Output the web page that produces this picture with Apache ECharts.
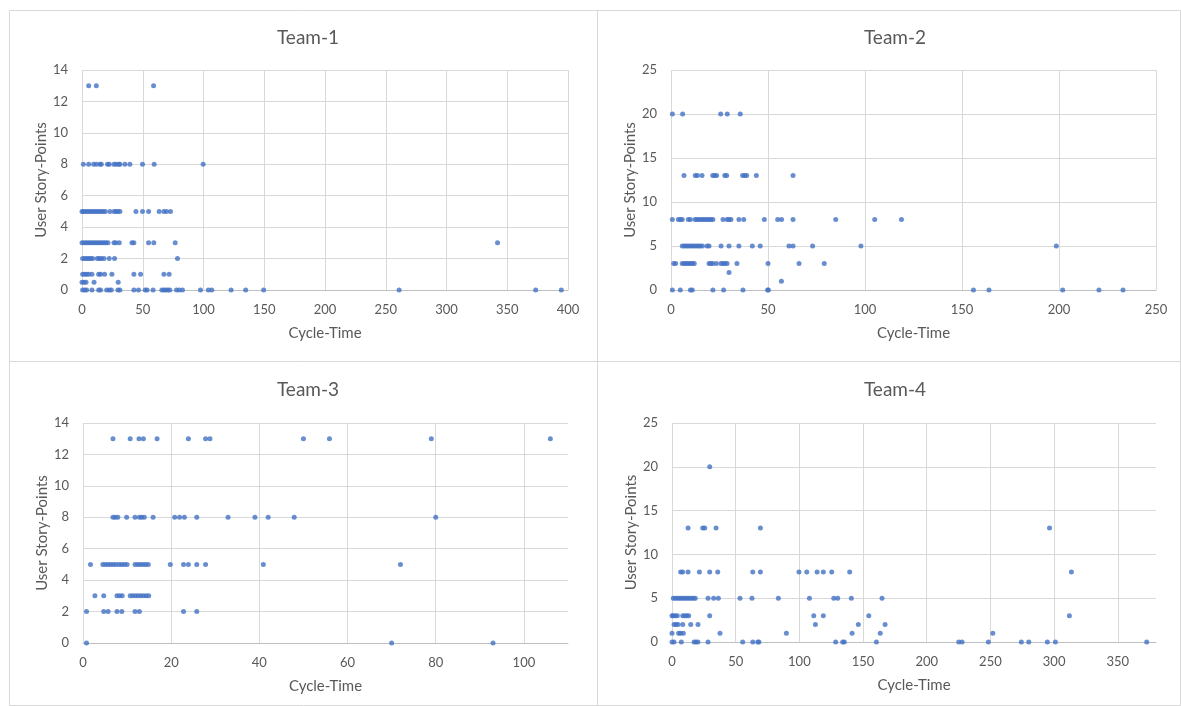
<!DOCTYPE html>
<html>
<head>
<meta charset="utf-8">
<script src="https://cdn.jsdelivr.net/npm/echarts@6/dist/echarts.min.js"></script>
<style>
html,body{margin:0;padding:0;background:#fff;}
#main{width:1181px;height:706px;}
</style>
</head>
<body>
<div id="main"></div>
<script>
// ---- Data: [Cycle-Time, User Story-Points] ----
const teamTitles = ['Team-1', 'Team-2', 'Team-3', 'Team-4'];

const team1Data = [
  [5.5,13],[11.8,13],[58.9,13],
  [1.1,8],[5.5,8],[9.6,8],[11.8,8],[14.8,8],[15.9,8],[21,8],[22.4,8],[26.3,8],[27.9,8],[30.1,8],[31.2,8],[35.3,8],[39.4,8],[49.8,8],[59.4,8],[99.7,8],
  [0,5],[1.1,5],[2.7,5],[4.4,5],[6,5],[7.7,5],[9.3,5],[11,5],[12.6,5],[14.2,5],[15.9,5],[17.5,5],[19.2,5],[23,5],[26.3,5],[27.9,5],[29.6,5],[31.2,5],[44.4,5],[49.8,5],[54.8,5],[63.5,5],[67.4,5],[69.5,5],[72.8,5],
  [0,3],[1.6,3],[3.3,3],[4.9,3],[6.6,3],[8.2,3],[9.9,3],[11.5,3],[13.1,3],[14.8,3],[16.4,3],[18.1,3],[19.7,3],[21.4,3],[26.3,3],[27.9,3],[30.7,3],[41.1,3],[42.7,3],[54.8,3],[59.1,3],[76.7,3],[342,3],
  [0.5,2],[2.2,2],[3.8,2],[5.5,2],[7.1,2],[8.8,2],[12.6,2],[14.2,2],[15.9,2],[18.1,2],[22.4,2],[26.8,2],[78.6,2],
  [0.5,1],[2.2,1],[3.8,1],[5.5,1],[8.2,1],[13.7,1],[15.3,1],[18.6,1],[24.6,1],[42.7,1],[48.2,1],[67.4,1],[71.7,1],
  [0,0.5],[1.6,0.5],[3.3,0.5],[9.9,0.5],[29.8,0.5],
  [0.5,0],[2.2,0],[3.8,0],[8.2,0],[13.7,0],[15.3,0],[20.3,0],[22.4,0],[24.1,0],[29.6,0],[31.2,0],[42.7,0],[46.5,0],[52,0],[53.6,0],[58.5,0],[65.7,0],[67.4,0],[69,0],[70.7,0],[72.3,0],[77.8,0],[80,0],[82.7,0],[97.5,0],[104,0],[106.8,0],[122.7,0],[134.7,0],[149.5,0],[261,0],[373.4,0],[394.5,0]
];

const team2Data = [
  [0.7,20],[6,20],[25.6,20],[29,20],[35.7,20],
  [6.7,13],[12.5,13],[13.6,13],[16,13],[21.5,13],[22.5,13],[23.5,13],[27.7,13],[28.7,13],[36.9,13],[38,13],[39,13],[44,13],[62.9,13],
  [0.7,8],[3.8,8],[4.8,8],[5.8,8],[8.9,8],[10,8],[12.4,8],[13.4,8],[14.4,8],[15.5,8],[16.5,8],[17.5,8],[18.6,8],[19.6,8],[20.6,8],[21.6,8],[26.8,8],[28.9,8],[29.9,8],[30.9,8],[35,8],[37.5,8],[48.1,8],[55,8],[57,8],[62.9,8],[84.9,8],[105,8],[118.8,8],
  [5.8,5],[6.9,5],[7.9,5],[8.9,5],[10,5],[11,5],[12,5],[13.1,5],[14.1,5],[15.1,5],[16.2,5],[18.6,5],[19.6,5],[25.8,5],[29.9,5],[35,5],[41.9,5],[46,5],[60.8,5],[62.9,5],[73,5],[97.9,5],[198.6,5],
  [1.4,3],[2.4,3],[5.8,3],[6.9,3],[7.9,3],[8.9,3],[10,3],[11,3],[12,3],[19.6,3],[20.6,3],[21.6,3],[23.4,3],[25.8,3],[26.8,3],[27.8,3],[28.9,3],[34,3],[50,3],[66,3],[79,3],
  [29.9,2],
  [56.9,1],
  [0.7,0],[4.8,0],[10,0],[11,0],[21.6,0],[27.1,0],[37.1,0],[49.8,0],[50.2,0],[155.9,0],[163.9,0],[201.9,0],[220.6,0],[233,0]
];

const team3Data = [
  [6.8,13],[10.7,13],[12.7,13],[13.7,13],[16.8,13],[23.9,13],[27.8,13],[28.8,13],[50,13],[55.9,13],[79,13],[106,13],
  [6.8,8],[7.3,8],[7.9,8],[9.9,8],[11.8,8],[12.8,8],[13.3,8],[13.9,8],[15.9,8],[20.8,8],[21.9,8],[23,8],[25.8,8],[32.9,8],[39,8],[42,8],[47.9,8],[80,8],
  [1.7,5],[4.5,5],[5.1,5],[5.7,5],[6.3,5],[6.9,5],[7.5,5],[8.2,5],[8.8,5],[9.4,5],[10,5],[11.8,5],[12.4,5],[13,5],[13.6,5],[14.2,5],[14.8,5],[19.8,5],[22.8,5],[23.9,5],[25.8,5],[27.8,5],[40.9,5],[72,5],
  [2.7,3],[4.7,3],[7.7,3],[8.3,3],[8.9,3],[10.7,3],[11.3,3],[11.9,3],[12.5,3],[13.1,3],[13.7,3],[14.3,3],[14.9,3],
  [0.8,2],[4.7,2],[5.7,2],[7.7,2],[8.8,2],[11.8,2],[12.8,2],[22.8,2],[25.8,2],
  [0.8,0],[70,0],[93,0]
];

const team4Data = [
  [29.6,20],
  [12.6,13],[24.1,13],[25.7,13],[34.6,13],[69.4,13],[296.4,13],
  [6.8,8],[8.4,8],[12.6,8],[21.5,8],[29.6,8],[35.9,8],[63.4,8],[69.4,8],[99.7,8],[105.8,8],[113.9,8],[118.8,8],[125.4,8],[139.5,8],[313.6,8],
  [1,5],[2.6,5],[4.2,5],[5.8,5],[7.3,5],[8.9,5],[10.5,5],[12,5],[13.6,5],[15.2,5],[16.8,5],[18.3,5],[28.3,5],[32.7,5],[36.4,5],[53.4,5],[62.8,5],[83.5,5],[107.9,5],[127,5],[130.1,5],[140.8,5],[164.9,5],
  [0,3],[1,3],[2.6,3],[4.2,3],[8.4,3],[9.9,3],[11.5,3],[13.1,3],[29.6,3],[111.3,3],[118.8,3],[154.5,3],[312,3],
  [1.6,2],[3.1,2],[4.7,2],[8.4,2],[14.7,2],[20.4,2],[112.6,2],[146.3,2],[167.3,2],
  [0,1],[5.2,1],[6.8,1],[8.9,1],[37.7,1],[89.8,1],[141.4,1],[163.5,1],[251.9,1],
  [0,0],[1.6,0],[7.3,0],[17.3,0],[18.8,0],[20.4,0],[28.3,0],[55.5,0],[63.4,0],[67.3,0],[68.3,0],[128.5,0],[134,0],[135.3,0],[160.5,0],[225.1,0],[227.7,0],[248.4,0],[274.3,0],[280.1,0],[294.7,0],[301,0],[372.7,0]
];

// axis ranges [min, max, interval]
const xRanges = [[0,400,50],[0,250,50],[0,110,20],[0,380,50]];
const yRanges = [[0,14,2],[0,25,5],[0,14,2],[0,25,5]];
const xAxisName = 'Cycle-Time';
const yAxisName = 'User Story-Points';

// ---- Layout ----
const FONT = 'Lato, "Open Sans", sans-serif';
const TXT = '#595959';
const GRIDC = '#d9d9d9';
const grids = [
  {left: 82, top: 70, width: 486, height: 220},
  {left: 671, top: 70, width: 485, height: 220},
  {left: 83, top: 423, width: 485, height: 220},
  {left: 672, top: 423, width: 484, height: 219}
];
const titlePos = [[303, 23], [890, 23], [303, 375], [890, 375]];
const boxes = [
  [9.5, 10.5, 588, 351],
  [597.5, 10.5, 583, 351],
  [9.5, 361.5, 588, 344],
  [597.5, 361.5, 583, 344]
];
const allData = [team1Data, team2Data, team3Data, team4Data];

const option = {
  backgroundColor: '#fff',
  animation: false,
  textStyle: {fontFamily: FONT},
  title: teamTitles.map((t, i) => ({
    text: t, left: titlePos[i][0], top: titlePos[i][1], textAlign: 'center',
    textStyle: {fontFamily: FONT, fontSize: 19, fontWeight: 'normal', color: TXT}
  })),
  grid: grids.map(g => Object.assign({containLabel: false}, g)),
  xAxis: xRanges.map((r, i) => ({
    type: 'value', gridIndex: i, min: r[0], max: r[1], interval: r[2],
    name: xAxisName, nameLocation: 'middle', nameGap: 36,
    nameTextStyle: {fontFamily: FONT, fontSize: 15, color: TXT},
    axisLine: {show: true, onZero: false, lineStyle: {color: '#bfbfbf', width: 1}},
    axisTick: {show: false},
    axisLabel: {fontFamily: FONT, fontSize: 13, color: TXT, margin: 13, showMaxLabel: (r[1] % r[2] === 0)},
    splitLine: {show: true, showMaxLine: (r[1] % r[2] === 0), lineStyle: {color: GRIDC, width: 1}}
  })),
  yAxis: yRanges.map((r, i) => ({
    type: 'value', gridIndex: i, min: r[0], max: r[1], interval: r[2],
    name: yAxisName, nameLocation: 'middle', nameGap: 33,
    nameTextStyle: {fontFamily: FONT, fontSize: 15, color: TXT},
    axisLine: {show: false},
    axisTick: {show: false},
    axisLabel: {fontFamily: FONT, fontSize: 13, color: TXT, margin: 14},
    splitLine: {show: true, lineStyle: {color: GRIDC, width: 1}}
  })),
  series: allData.map((d, i) => ({
    type: 'scatter', xAxisIndex: i, yAxisIndex: i, data: d,
    symbol: 'circle', symbolSize: 5,
    itemStyle: {color: '#4472C4'}
  })),
  graphic: boxes.map(b => ({
    type: 'rect', silent: true, z: -1,
    shape: {x: b[0], y: b[1], width: b[2], height: b[3]},
    style: {fill: 'none', stroke: GRIDC, lineWidth: 1}
  }))
};

const chart = echarts.init(document.getElementById('main'), null, {renderer: 'canvas'});
chart.setOption(option);
</script>
</body>
</html>
